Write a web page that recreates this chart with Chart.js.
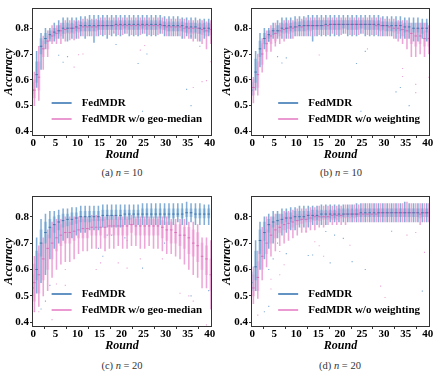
<!DOCTYPE html>
<html>
<head>
<meta charset="utf-8">
<script src="https://cdn.jsdelivr.net/npm/chart.js@4.4.0/dist/chart.umd.min.js"></script>
<style>
  body { margin: 0; background: #fff; width: 435px; height: 378px; position: relative; overflow: hidden; font-family: 'Liberation Serif', serif; }
  canvas { position: absolute; }
  .cap { position: absolute; width: 200px; text-align: center; font-size: 10.5px; color: #333; }
</style>
</head>
<body>
<canvas id="pa" width="217" height="165" style="left:0;top:0"></canvas>
<canvas id="pb" width="217" height="165" style="left:218px;top:0"></canvas>
<canvas id="pc" width="217" height="168" style="left:0;top:188px"></canvas>
<canvas id="pd" width="217" height="168" style="left:218px;top:188px"></canvas>
<div class="cap" style="left:22px;top:167px">(a) <i>n</i> = 10</div>
<div class="cap" style="left:241px;top:167px">(b) <i>n</i> = 10</div>
<div class="cap" style="left:22px;top:360px">(c) <i>n</i> = 20</div>
<div class="cap" style="left:240px;top:360px">(d) <i>n</i> = 20</div>
<script>
// ---- data ----
const rounds = [0,1,2,3,4,5,6,7,8,9,10,11,12,13,14,15,16,17,18,19,20,21,22,23,24,25,26,27,28,29,30,31,32,33,34,35,36,37,38,39,40];
const xTicks = [0, 5, 10, 15, 20, 25, 30, 35, 40];
const yTicks = [0.4, 0.5, 0.6, 0.7, 0.8];

// (a) n = 10, FedMDR vs w/o geo-median
const aBlueLo  = [0.51,0.57,0.64,0.72,0.75,0.75,0.76,0.76,0.75,0.76,0.76,0.77,0.76,0.77,0.745,0.77,0.77,0.76,0.77,0.77,0.77,0.78,0.77,0.77,0.77,0.78,0.77,0.77,0.77,0.78,0.77,0.77,0.77,0.77,0.76,0.77,0.76,0.76,0.75,0.76,0.77];
const aBlueQ1  = [0.545,0.59,0.70,0.74,0.76,0.77,0.78,0.78,0.785,0.785,0.79,0.79,0.79,0.79,0.79,0.795,0.795,0.795,0.795,0.795,0.795,0.80,0.795,0.795,0.795,0.80,0.795,0.795,0.795,0.80,0.795,0.79,0.79,0.79,0.79,0.785,0.785,0.785,0.78,0.785,0.785];
const aBlueMed = [0.56,0.62,0.73,0.76,0.775,0.785,0.79,0.80,0.80,0.80,0.805,0.81,0.81,0.81,0.81,0.81,0.81,0.81,0.81,0.815,0.815,0.815,0.815,0.815,0.815,0.815,0.815,0.815,0.815,0.815,0.81,0.81,0.81,0.81,0.81,0.805,0.805,0.805,0.80,0.80,0.80];
const aBlueQ3  = [0.59,0.67,0.76,0.78,0.79,0.80,0.81,0.82,0.82,0.82,0.825,0.825,0.825,0.83,0.83,0.83,0.83,0.83,0.83,0.83,0.83,0.83,0.83,0.83,0.83,0.83,0.83,0.83,0.83,0.83,0.825,0.825,0.825,0.825,0.825,0.82,0.82,0.82,0.82,0.82,0.82];
const aBlueHi  = [0.62,0.71,0.78,0.80,0.80,0.82,0.83,0.84,0.84,0.84,0.84,0.845,0.845,0.85,0.85,0.85,0.85,0.85,0.85,0.85,0.85,0.85,0.85,0.85,0.85,0.85,0.85,0.85,0.85,0.85,0.845,0.845,0.845,0.845,0.84,0.84,0.84,0.84,0.835,0.835,0.835];
const aPinkLo  = [0.50,0.52,0.64,0.69,0.74,0.74,0.74,0.75,0.755,0.755,0.76,0.77,0.77,0.77,0.77,0.775,0.775,0.775,0.78,0.775,0.775,0.78,0.775,0.775,0.775,0.78,0.775,0.775,0.775,0.78,0.77,0.77,0.77,0.77,0.76,0.76,0.75,0.75,0.74,0.72,0.74];
const aPinkQ1  = [0.53,0.56,0.69,0.72,0.75,0.76,0.77,0.78,0.78,0.78,0.785,0.79,0.79,0.79,0.79,0.795,0.795,0.795,0.795,0.795,0.795,0.795,0.795,0.795,0.795,0.795,0.795,0.795,0.795,0.795,0.79,0.79,0.79,0.79,0.785,0.78,0.78,0.78,0.775,0.77,0.775];
const aPinkMed = [0.56,0.61,0.72,0.75,0.77,0.78,0.79,0.795,0.80,0.80,0.80,0.805,0.805,0.805,0.805,0.81,0.81,0.81,0.81,0.81,0.81,0.81,0.81,0.81,0.81,0.81,0.81,0.81,0.81,0.81,0.805,0.805,0.805,0.805,0.80,0.80,0.80,0.80,0.795,0.79,0.795];
const aPinkQ3  = [0.60,0.67,0.75,0.77,0.79,0.80,0.81,0.81,0.815,0.815,0.815,0.82,0.82,0.82,0.82,0.825,0.825,0.825,0.825,0.825,0.825,0.825,0.825,0.825,0.825,0.825,0.825,0.825,0.825,0.825,0.82,0.82,0.82,0.82,0.82,0.82,0.82,0.815,0.815,0.81,0.815];
const aPinkHi  = [0.63,0.73,0.77,0.79,0.81,0.81,0.82,0.83,0.83,0.83,0.83,0.835,0.835,0.835,0.835,0.84,0.84,0.84,0.84,0.84,0.84,0.84,0.84,0.84,0.84,0.84,0.84,0.84,0.84,0.84,0.835,0.835,0.835,0.835,0.835,0.83,0.83,0.83,0.83,0.825,0.83];
const aBlueOutR = [0,6,7,8,19,24,26,25,35,36,38,36];
const aBlueOutV = [0.665,0.695,0.668,0.69,0.737,0.663,0.70,0.478,0.563,0.50,0.73,0.77];
const aPinkOutR = [9,10,11,24,25,36,38,39,40,18];
const aPinkOutV = [0.649,0.697,0.70,0.715,0.733,0.57,0.593,0.597,0.67,0.785];

// (b) n = 10, FedMDR vs w/o weighting
const bBlueLo  = [0.52,0.56,0.65,0.72,0.75,0.76,0.76,0.76,0.76,0.76,0.77,0.77,0.77,0.77,0.75,0.77,0.77,0.77,0.77,0.77,0.77,0.78,0.77,0.77,0.77,0.78,0.77,0.77,0.77,0.77,0.77,0.77,0.77,0.76,0.76,0.76,0.76,0.75,0.75,0.76,0.75];
const bBlueQ1  = [0.54,0.59,0.69,0.74,0.76,0.775,0.78,0.785,0.785,0.79,0.79,0.79,0.79,0.795,0.795,0.795,0.795,0.795,0.795,0.795,0.795,0.80,0.795,0.795,0.795,0.80,0.795,0.795,0.795,0.795,0.795,0.79,0.79,0.79,0.79,0.785,0.785,0.785,0.785,0.78,0.785];
const bBlueMed = [0.56,0.63,0.72,0.76,0.775,0.79,0.79,0.80,0.80,0.805,0.805,0.81,0.81,0.81,0.81,0.81,0.81,0.815,0.815,0.815,0.815,0.815,0.815,0.815,0.815,0.815,0.815,0.815,0.815,0.815,0.81,0.81,0.81,0.81,0.81,0.805,0.805,0.80,0.80,0.80,0.80];
const bBlueQ3  = [0.59,0.68,0.75,0.78,0.79,0.80,0.81,0.82,0.82,0.82,0.825,0.825,0.83,0.83,0.83,0.83,0.83,0.83,0.83,0.83,0.83,0.83,0.83,0.83,0.83,0.83,0.83,0.83,0.83,0.83,0.825,0.825,0.825,0.825,0.825,0.82,0.82,0.82,0.82,0.82,0.82];
const bBlueHi  = [0.61,0.71,0.78,0.80,0.80,0.82,0.83,0.84,0.84,0.84,0.845,0.845,0.845,0.85,0.85,0.85,0.85,0.85,0.85,0.85,0.85,0.85,0.85,0.85,0.85,0.85,0.85,0.85,0.85,0.85,0.845,0.845,0.845,0.845,0.845,0.84,0.84,0.84,0.84,0.835,0.835];
const bPinkLo  = [0.51,0.54,0.63,0.68,0.71,0.73,0.74,0.75,0.76,0.76,0.77,0.77,0.77,0.77,0.77,0.775,0.775,0.775,0.78,0.775,0.775,0.78,0.775,0.775,0.775,0.78,0.775,0.775,0.775,0.77,0.77,0.77,0.76,0.75,0.74,0.72,0.69,0.69,0.70,0.69,0.70];
const bPinkQ1  = [0.54,0.57,0.66,0.71,0.74,0.75,0.77,0.78,0.78,0.785,0.79,0.79,0.79,0.79,0.795,0.795,0.795,0.795,0.795,0.795,0.795,0.80,0.795,0.795,0.795,0.80,0.795,0.795,0.795,0.79,0.79,0.79,0.785,0.78,0.77,0.76,0.74,0.73,0.74,0.73,0.73];
const bPinkMed = [0.57,0.62,0.70,0.74,0.77,0.78,0.79,0.795,0.80,0.80,0.805,0.805,0.81,0.81,0.81,0.81,0.81,0.81,0.815,0.815,0.815,0.815,0.815,0.815,0.815,0.815,0.815,0.815,0.81,0.81,0.81,0.805,0.80,0.80,0.795,0.79,0.78,0.77,0.77,0.76,0.76];
const bPinkQ3  = [0.60,0.67,0.74,0.77,0.79,0.80,0.81,0.815,0.815,0.82,0.82,0.825,0.825,0.825,0.83,0.83,0.83,0.83,0.83,0.83,0.83,0.83,0.83,0.83,0.83,0.83,0.83,0.83,0.825,0.825,0.825,0.82,0.82,0.82,0.815,0.81,0.80,0.80,0.80,0.79,0.79];
const bPinkHi  = [0.61,0.70,0.76,0.79,0.81,0.82,0.82,0.83,0.83,0.83,0.835,0.835,0.84,0.84,0.84,0.84,0.84,0.84,0.84,0.84,0.84,0.84,0.84,0.84,0.84,0.84,0.84,0.84,0.84,0.84,0.835,0.835,0.835,0.83,0.83,0.83,0.82,0.82,0.82,0.82,0.81];
const bBlueOutR = [6,7,8,24,25,26,33,34,36,4];
const bBlueOutV = [0.69,0.665,0.685,0.663,0.478,0.71,0.553,0.57,0.50,0.75];
const bPinkOutR = [15,34,34,37,37,40,5,26];
const bPinkOutV = [0.696,0.644,0.613,0.582,0.55,0.61,0.745,0.72];

// (c) n = 20, FedMDR vs w/o geo-median
const cBlueLo  = [0.48,0.51,0.55,0.58,0.64,0.68,0.70,0.71,0.72,0.72,0.73,0.74,0.74,0.75,0.75,0.75,0.76,0.76,0.76,0.76,0.76,0.77,0.77,0.77,0.77,0.77,0.77,0.77,0.77,0.77,0.77,0.77,0.77,0.78,0.77,0.77,0.78,0.77,0.77,0.77,0.77];
const cBlueQ1  = [0.50,0.56,0.65,0.70,0.72,0.74,0.75,0.76,0.765,0.77,0.775,0.78,0.78,0.78,0.785,0.785,0.785,0.79,0.79,0.79,0.79,0.79,0.79,0.795,0.795,0.795,0.795,0.795,0.795,0.795,0.795,0.795,0.795,0.80,0.795,0.80,0.80,0.795,0.795,0.795,0.795];
const cBlueMed = [0.53,0.60,0.70,0.74,0.76,0.77,0.78,0.785,0.79,0.79,0.795,0.80,0.80,0.80,0.80,0.80,0.805,0.805,0.805,0.805,0.805,0.81,0.81,0.81,0.81,0.81,0.81,0.81,0.81,0.81,0.81,0.81,0.81,0.81,0.81,0.815,0.815,0.81,0.81,0.81,0.81];
const cBlueQ3  = [0.58,0.67,0.75,0.78,0.79,0.80,0.805,0.81,0.81,0.815,0.815,0.82,0.82,0.82,0.82,0.82,0.825,0.825,0.825,0.825,0.825,0.825,0.825,0.825,0.825,0.83,0.83,0.83,0.83,0.83,0.83,0.83,0.83,0.83,0.83,0.83,0.83,0.83,0.83,0.83,0.83];
const cBlueHi  = [0.61,0.72,0.79,0.81,0.82,0.82,0.825,0.83,0.83,0.835,0.835,0.84,0.84,0.84,0.84,0.84,0.845,0.845,0.845,0.845,0.845,0.845,0.845,0.845,0.845,0.85,0.85,0.85,0.85,0.85,0.85,0.85,0.85,0.85,0.85,0.855,0.85,0.85,0.85,0.845,0.845];
const cPinkLo  = [0.44,0.46,0.50,0.52,0.57,0.60,0.62,0.63,0.63,0.64,0.66,0.67,0.67,0.68,0.68,0.68,0.67,0.68,0.68,0.69,0.68,0.68,0.69,0.69,0.68,0.68,0.69,0.68,0.68,0.67,0.66,0.66,0.65,0.64,0.62,0.60,0.58,0.57,0.53,0.53,0.45];
const cPinkQ1  = [0.48,0.51,0.56,0.60,0.64,0.67,0.69,0.70,0.70,0.71,0.72,0.72,0.72,0.73,0.73,0.73,0.72,0.73,0.73,0.73,0.73,0.73,0.74,0.73,0.73,0.73,0.73,0.73,0.73,0.72,0.71,0.70,0.70,0.69,0.68,0.66,0.65,0.63,0.60,0.58,0.52];
const cPinkMed = [0.55,0.58,0.64,0.68,0.70,0.72,0.73,0.74,0.74,0.745,0.75,0.755,0.755,0.76,0.76,0.76,0.76,0.765,0.765,0.765,0.765,0.765,0.77,0.765,0.765,0.765,0.765,0.765,0.765,0.76,0.75,0.75,0.74,0.73,0.73,0.72,0.70,0.69,0.65,0.64,0.58];
const cPinkQ3  = [0.62,0.66,0.70,0.73,0.76,0.77,0.77,0.78,0.78,0.785,0.785,0.79,0.79,0.79,0.79,0.79,0.79,0.79,0.79,0.79,0.79,0.79,0.795,0.79,0.79,0.79,0.79,0.79,0.79,0.785,0.78,0.78,0.77,0.77,0.76,0.76,0.75,0.74,0.70,0.69,0.64];
const cPinkHi  = [0.65,0.69,0.72,0.75,0.78,0.79,0.79,0.80,0.80,0.80,0.80,0.80,0.80,0.805,0.805,0.80,0.80,0.805,0.805,0.80,0.80,0.80,0.805,0.80,0.80,0.80,0.80,0.80,0.80,0.80,0.80,0.79,0.79,0.79,0.79,0.78,0.78,0.77,0.72,0.72,0.71];
const cBlueOutR = [3,4,15,16,17,18,21,25,30,36,40,2];
const cBlueOutV = [0.48,0.54,0.68,0.65,0.73,0.73,0.72,0.605,0.70,0.50,0.52,0.45];
const cPinkOutR = [0,1,4,5,6,7,7,14,15,19,21,21,24,29,33,35,36,39];
const cPinkOutV = [0.44,0.44,0.41,0.545,0.385,0.60,0.54,0.60,0.625,0.625,0.71,0.605,0.64,0.64,0.51,0.50,0.48,0.39];

// (d) n = 20, FedMDR vs w/o weighting
const dBlueLo  = [0.49,0.52,0.60,0.64,0.68,0.70,0.72,0.73,0.74,0.75,0.75,0.76,0.76,0.76,0.77,0.77,0.77,0.77,0.78,0.78,0.78,0.78,0.78,0.78,0.78,0.78,0.78,0.78,0.78,0.78,0.78,0.78,0.78,0.78,0.78,0.78,0.78,0.78,0.78,0.78,0.78];
const dBlueQ1  = [0.52,0.56,0.66,0.71,0.74,0.76,0.77,0.775,0.78,0.78,0.785,0.785,0.79,0.79,0.79,0.79,0.795,0.795,0.795,0.795,0.80,0.80,0.80,0.80,0.80,0.80,0.80,0.80,0.80,0.80,0.80,0.80,0.80,0.80,0.80,0.80,0.80,0.80,0.80,0.80,0.80];
const dBlueMed = [0.55,0.61,0.71,0.74,0.77,0.78,0.785,0.79,0.795,0.795,0.80,0.80,0.80,0.805,0.805,0.805,0.81,0.81,0.81,0.81,0.81,0.81,0.81,0.81,0.81,0.815,0.815,0.815,0.815,0.815,0.815,0.815,0.815,0.815,0.815,0.815,0.815,0.815,0.815,0.815,0.815];
const dBlueQ3  = [0.59,0.67,0.75,0.78,0.79,0.80,0.81,0.81,0.815,0.815,0.82,0.82,0.82,0.82,0.825,0.825,0.825,0.825,0.825,0.825,0.83,0.83,0.83,0.83,0.83,0.83,0.83,0.83,0.83,0.83,0.83,0.83,0.83,0.83,0.83,0.83,0.83,0.83,0.83,0.83,0.83];
const dBlueHi  = [0.62,0.71,0.78,0.80,0.81,0.82,0.82,0.83,0.83,0.835,0.835,0.84,0.84,0.84,0.84,0.84,0.845,0.845,0.845,0.845,0.845,0.845,0.845,0.845,0.85,0.85,0.85,0.85,0.85,0.85,0.85,0.85,0.85,0.85,0.85,0.855,0.85,0.85,0.85,0.85,0.85];
const dPinkLo  = [0.47,0.49,0.56,0.61,0.65,0.67,0.69,0.70,0.71,0.72,0.73,0.74,0.74,0.75,0.75,0.76,0.76,0.77,0.77,0.77,0.77,0.77,0.78,0.78,0.78,0.78,0.78,0.78,0.78,0.78,0.78,0.78,0.78,0.78,0.78,0.78,0.78,0.78,0.77,0.78,0.78];
const dPinkQ1  = [0.50,0.52,0.60,0.66,0.70,0.72,0.74,0.75,0.755,0.76,0.77,0.775,0.78,0.78,0.785,0.785,0.79,0.79,0.79,0.79,0.795,0.795,0.795,0.795,0.80,0.80,0.80,0.80,0.80,0.80,0.80,0.80,0.80,0.80,0.80,0.80,0.80,0.80,0.795,0.80,0.80];
const dPinkMed = [0.53,0.57,0.65,0.70,0.73,0.75,0.76,0.77,0.775,0.78,0.785,0.79,0.79,0.795,0.80,0.80,0.80,0.80,0.805,0.805,0.805,0.81,0.81,0.81,0.81,0.81,0.81,0.81,0.81,0.815,0.815,0.815,0.815,0.815,0.815,0.815,0.815,0.815,0.81,0.815,0.815];
const dPinkQ3  = [0.58,0.63,0.71,0.75,0.77,0.78,0.79,0.80,0.80,0.805,0.81,0.81,0.81,0.815,0.815,0.82,0.82,0.82,0.82,0.82,0.825,0.825,0.825,0.825,0.825,0.83,0.83,0.83,0.83,0.83,0.83,0.83,0.83,0.83,0.83,0.83,0.83,0.83,0.83,0.83,0.83];
const dPinkHi  = [0.61,0.67,0.76,0.80,0.80,0.81,0.81,0.82,0.82,0.825,0.83,0.83,0.83,0.835,0.835,0.84,0.84,0.84,0.84,0.84,0.84,0.845,0.845,0.845,0.845,0.85,0.85,0.85,0.85,0.85,0.85,0.85,0.85,0.85,0.85,0.855,0.85,0.85,0.85,0.85,0.85];
const dBlueOutR = [3,4,5,4,6,8,14,17,18,19,21,23,26,32,39,13];
const dBlueOutV = [0.44,0.60,0.64,0.46,0.70,0.66,0.655,0.744,0.625,0.73,0.718,0.63,0.60,0.745,0.518,0.653];
const dPinkOutR = [1,4,4,6,6,7,14,15,16,22,29,30,35,37,39,12];
const dPinkOutV = [0.427,0.563,0.526,0.668,0.58,0.618,0.705,0.69,0.65,0.692,0.537,0.494,0.73,0.74,0.665,0.745];

// ---- styling ----
const BLUE      = '#2f6fae';
const BLUE_MED  = 'rgba(45,105,165,0.8)';
const BLUE_WH   = 'rgba(80,140,196,0.7)';
const BLUE_BOX  = 'rgba(165,200,230,0.7)';
const PINK      = '#e377c2';
const PINK_MED  = 'rgba(215,95,180,0.8)';
const PINK_WH   = 'rgba(228,128,200,0.7)';
const PINK_BOX  = 'rgba(245,190,230,0.7)';
const AXIS      = '#333';
const SERIF     = "'Liberation Serif', 'DejaVu Serif', serif";
const OFF       = 0.25;

function boxSeries(label, shift, lo, q1, med, q3, hi, outR, outV, cMed, cWhisk, cBox) {
  return [
    { type: 'bar', label: label + ' box', order: 6,
      data: rounds.map((r, i) => ({ x: r + shift, y: [q1[i], q3[i]] })),
      backgroundColor: cBox, barThickness: 2.4, grouped: false },
    { type: 'bar', label: label + ' whisker', order: 5,
      data: rounds.map((r, i) => ({ x: r + shift, y: [lo[i], hi[i]] })),
      backgroundColor: cWhisk, barThickness: 0.9, grouped: false },
    { type: 'scatter', label: label + ' median', order: 3,
      data: rounds.map((r, i) => ({ x: r + shift, y: med[i] })),
      pointStyle: 'line', pointRadius: 1.3, borderColor: cMed, borderWidth: 1 },
    { type: 'scatter', label: label + ' outliers', order: 2,
      data: outR.map((r, i) => ({ x: r + shift, y: outV[i] })),
      pointStyle: 'rect', pointRadius: 0.8, backgroundColor: cWhisk, borderWidth: 0 },
  ];
}

function makePanel(id, s, otherLabel, yWidth, padTop, padRight) {
  const legendLabels = [['FedMDR', BLUE], [otherLabel, PINK]];
  const framePlugin = {
    id: 'frameAndLegend',
    afterDraw(chart) {
      const { ctx, chartArea: a } = chart;
      ctx.save();
      ctx.strokeStyle = AXIS;
      ctx.lineWidth = 1;
      ctx.strokeRect(Math.round(a.left) + 0.5, Math.round(a.top) + 0.5,
        Math.round(a.right - a.left) - 1, Math.round(a.bottom - a.top) - 1);
      // legend inside, lower right
      ctx.font = 'bold 11px ' + SERIF;
      ctx.textBaseline = 'middle';
      const tw = Math.max(...legendLabels.map(l => ctx.measureText(l[0]).width));
      const x0 = a.right - 10 - tw - 30;
      legendLabels.forEach((l, k) => {
        const y = a.bottom - 33 + k * 16;
        ctx.strokeStyle = l[1];
        ctx.lineWidth = 1.5;
        ctx.beginPath();
        ctx.moveTo(x0, y);
        ctx.lineTo(x0 + 20, y);
        ctx.stroke();
        ctx.fillStyle = '#000';
        ctx.fillText(l[0], x0 + 30, y + 0.5);
      });
      ctx.restore();
    }
  };

  new Chart(document.getElementById(id), {
    type: 'bar',
    data: {
      datasets: [
        ...boxSeries('FedMDR', -OFF, s.bLo, s.bQ1, s.bMed, s.bQ3, s.bHi, s.bOutR, s.bOutV, BLUE_MED, BLUE_WH, BLUE_BOX),
        ...boxSeries(otherLabel, OFF, s.pLo, s.pQ1, s.pMed, s.pQ3, s.pHi, s.pOutR, s.pOutV, PINK_MED, PINK_WH, PINK_BOX),
      ],
    },
    options: {
      responsive: false,
      animation: false,
      events: [],
      layout: { padding: { top: padTop, right: padRight, left: 0, bottom: 0 } },
      plugins: { legend: { display: false }, tooltip: { enabled: false } },
      scales: {
        x: {
          type: 'linear', min: -0.3, max: 40.5, offset: false,
          afterFit: sc => { sc.height = 29; },
          afterBuildTicks: sc => { sc.ticks = xTicks.map(v => ({ value: v })); },
          ticks: { color: '#000', padding: 0, font: { family: SERIF, size: 11, weight: 'bold', lineHeight: 1 }, maxRotation: 0 },
          grid: { display: true, drawOnChartArea: false, drawTicks: true, tickLength: 2, color: AXIS },
          border: { display: false },
          title: { display: true, text: 'Round', color: '#000', padding: { top: 3, bottom: 3 },
                   font: { family: SERIF, size: 12, weight: 'bold', style: 'italic' } },
        },
        y: {
          min: 0.382, max: 0.88,
          afterFit: sc => { sc.width = yWidth; },
          afterBuildTicks: sc => { sc.ticks = yTicks.map(v => ({ value: v })); },
          ticks: { color: '#000', padding: 1, callback: v => v.toFixed(1),
                   font: { family: SERIF, size: 11, weight: 'bold' } },
          grid: { display: true, drawOnChartArea: false, drawTicks: true, tickLength: 2, color: AXIS },
          border: { display: false },
          title: { display: true, text: 'Accuracy', color: '#000', padding: { top: 2, bottom: 2 },
                   font: { family: SERIF, size: 12, weight: 'bold', style: 'italic' } },
        },
      },
    },
    plugins: [framePlugin],
  });
}

makePanel('pa', { bLo: aBlueLo, bQ1: aBlueQ1, bMed: aBlueMed, bQ3: aBlueQ3, bHi: aBlueHi, bOutR: aBlueOutR, bOutV: aBlueOutV,
                  pLo: aPinkLo, pQ1: aPinkQ1, pMed: aPinkMed, pQ3: aPinkQ3, pHi: aPinkHi, pOutR: aPinkOutR, pOutV: aPinkOutV },
          'FedMDR w/o geo-median', 32, 3, 5);
makePanel('pb', { bLo: bBlueLo, bQ1: bBlueQ1, bMed: bBlueMed, bQ3: bBlueQ3, bHi: bBlueHi, bOutR: bBlueOutR, bOutV: bBlueOutV,
                  pLo: bPinkLo, pQ1: bPinkQ1, pMed: bPinkMed, pQ3: bPinkQ3, pHi: bPinkHi, pOutR: bPinkOutR, pOutV: bPinkOutV },
          'FedMDR w/o weighting', 33, 3, 3);
makePanel('pc', { bLo: cBlueLo, bQ1: cBlueQ1, bMed: cBlueMed, bQ3: cBlueQ3, bHi: cBlueHi, bOutR: cBlueOutR, bOutV: cBlueOutV,
                  pLo: cPinkLo, pQ1: cPinkQ1, pMed: cPinkMed, pQ3: cPinkQ3, pHi: cPinkHi, pOutR: cPinkOutR, pOutV: cPinkOutV },
          'FedMDR w/o geo-median', 32, 4, 5);
makePanel('pd', { bLo: dBlueLo, bQ1: dBlueQ1, bMed: dBlueMed, bQ3: dBlueQ3, bHi: dBlueHi, bOutR: dBlueOutR, bOutV: dBlueOutV,
                  pLo: dPinkLo, pQ1: dPinkQ1, pMed: dPinkMed, pQ3: dPinkQ3, pHi: dPinkHi, pOutR: dPinkOutR, pOutV: dPinkOutV },
          'FedMDR w/o weighting', 33, 4, 5);
</script>
</body>
</html>
